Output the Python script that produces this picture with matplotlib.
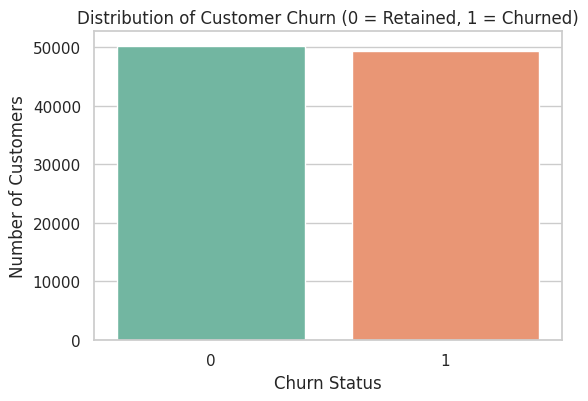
import matplotlib
matplotlib.use("Agg")
import matplotlib.pyplot as plt
import seaborn as sns

sns.set_theme(style="whitegrid")

churn = ["0", "1"]
counts = [50250, 49300]

fig = plt.figure(figsize=(5.88, 4.02), dpi=100)
ax = fig.add_axes([0.160, 0.152, 0.796, 0.768])
sns.barplot(x=churn, y=counts, hue=churn, palette="Set2", legend=False, ax=ax)

ax.set_title("Distribution of Customer Churn (0 = Retained, 1 = Churned)")
ax.set_xlabel("Churn Status")
ax.set_ylabel("Number of Customers")

fig.savefig("out.png", dpi=100)
